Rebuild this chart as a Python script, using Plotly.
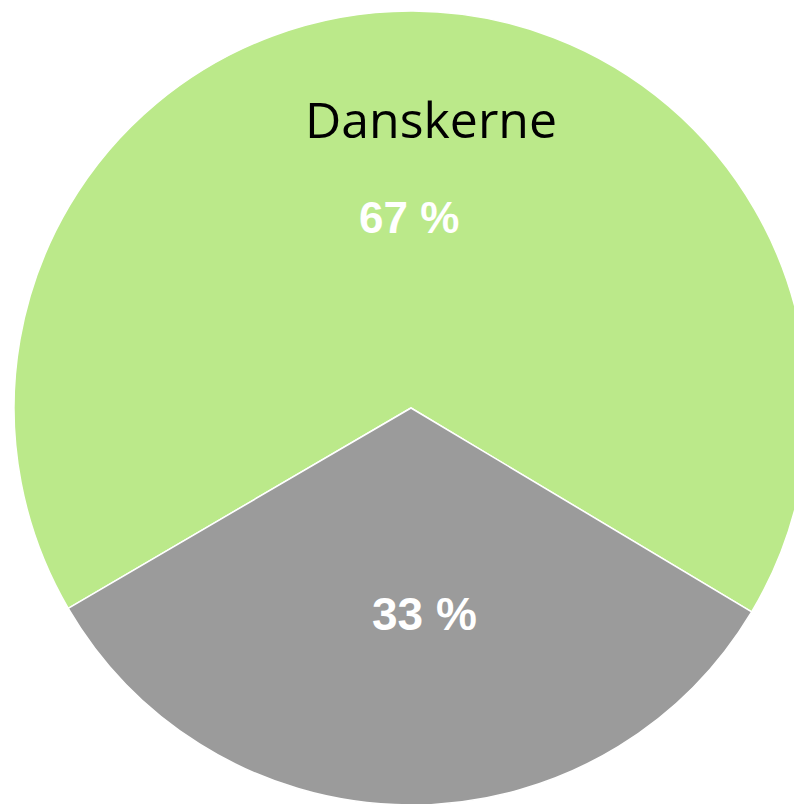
import plotly.graph_objects as go

labels = ["Danskerne", "Andre"]
values = [67, 33]
colors = ["#BBE98A", "#9B9B9B"]
pct_text = [f"{v} %" for v in values]

W, H = 802, 804
OFF = 8  # page body margin offset

def px_x(x):
    return (x - OFF) / W

def px_y(y):
    return 1 - (y - OFF) / H

fig = go.Figure(go.Pie(
    labels=labels,
    values=values,
    sort=False,
    direction="clockwise",
    rotation=-120.3,
    marker=dict(colors=colors, line=dict(color="white", width=1.5)),
    textinfo="none",
    hoverinfo="label+percent",
    showlegend=False,
    domain=dict(x=[6 / W, 800 / W], y=[7 / H, 801 / H]),
))

# name label and percentage labels
fig.add_annotation(x=px_x(431), y=px_y(119), xref="paper", yref="paper",
                   xanchor="center", yanchor="middle",
                   text=labels[0], showarrow=False,
                   font=dict(family="Open Sans", size=50, color="black"))
fig.add_annotation(x=px_x(409), y=px_y(218), xref="paper", yref="paper",
                   xanchor="center", yanchor="middle",
                   text=f"<b>{pct_text[0]}</b>", showarrow=False,
                   font=dict(family="Liberation Sans", size=44, color="white"))
fig.add_annotation(x=px_x(424), y=px_y(614), xref="paper", yref="paper",
                   xanchor="center", yanchor="middle",
                   text=f"<b>{pct_text[1]}</b>", showarrow=False,
                   font=dict(family="Liberation Sans", size=46, color="white"))

fig.update_layout(
    width=W, height=H,
    margin=dict(l=0, r=0, t=0, b=0),
    paper_bgcolor="white",
    plot_bgcolor="white",
)

fig.write_html("out.html")
